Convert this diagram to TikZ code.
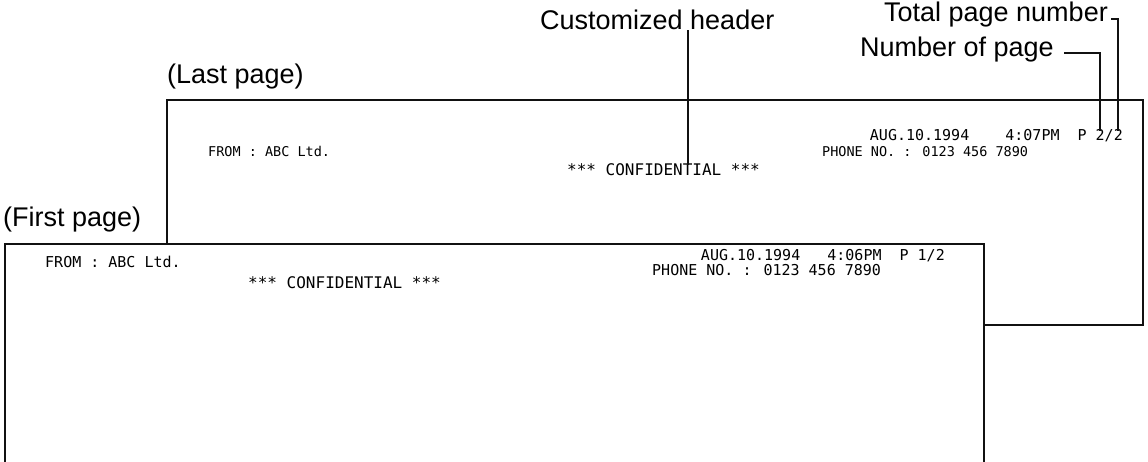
\documentclass[tikz,border=0pt]{standalone}
\usepackage{fontspec}
\setmainfont{Liberation Sans}
\newfontfamily\faxfont{DejaVu Sans Mono}
\usetikzlibrary{positioning}
\definecolor{fxInk}{HTML}{111111}
\definecolor{fxPaper}{HTML}{FFFFFF}
\tikzset{
  sheet/.style={draw=fxInk,line width=1.5pt,fill=fxPaper},
  callout/.style={inner sep=0pt,font=\fontsize{27}{30}\selectfont},
  leader/.style={draw=fxInk,line width=2pt},
  faxback/.style={inner sep=0pt,font=\faxfont\fontsize{13.5}{15}\selectfont},
  faxfront/.style={inner sep=0pt,font=\faxfont\fontsize{15}{17}\selectfont},
  faxconf/.style={inner sep=0pt,font=\faxfont\fontsize{16}{18}\selectfont}
}

\begin{document}
\begin{tikzpicture}[x=1pt,y=-1pt]
  \useasboundingbox (0,0) rectangle (1148,462);
  \clip (0,0) rectangle (1148,462);
  % ---- Last page ----
  \begin{scope}
    \draw[sheet] (167,100) rectangle (1143,325);
    \node[callout,anchor=base west] (lastlbl) at (167,84) {(Last page)};
    \node[faxback,anchor=base west] (lastfrom) at (208,157) {FROM : ABC Ltd.};
    \node[faxconf,anchor=base west] (lastconf) at (567,176) {*** CONFIDENTIAL ***};
    \node[faxfront,anchor=base east] (lastdate) at (1123,141) {AUG.10.1994~~~~4:07PM~~P 2/2};
    \node[faxback,anchor=base west] (lastphone) at (822,157) {PHONE NO. : 0123 456 7890};
  \end{scope}
  % ---- First page ----
  \begin{scope}
    \draw[sheet] (5,244) rectangle (984,480);
    \node[callout,anchor=base west] (firstlbl) at (3,227) {(First page)};
    \node[faxfront,anchor=base west] (firstfrom) at (45,268) {FROM : ABC Ltd.};
    \node[faxconf,anchor=base west] (firstconf) at (248,289) {*** CONFIDENTIAL ***};
    \node[faxfront,anchor=base east] (firstdate) at (945,261) {AUG.10.1994~~~4:06PM~~P 1/2};
    \node[faxfront,anchor=base west] (firstphone) at (652,276) {PHONE NO. : 0123 456 7890};
  \end{scope}
  % ---- Callouts ----
  \node[callout,anchor=base west] (hdr) at (540,30) {Customized header};
  \node[callout,anchor=base east] (tot) at (1108,22) {Total page number};
  \node[callout,anchor=base east] (num) at (1054,57) {Number of page};
  \coordinate (hdrtip) at (688,165);
  \coordinate (tottip) at (1118,131);
  \coordinate (numtip) at (1100,131);
  \draw[leader] (hdr.south -| hdrtip) -- (hdrtip);
  \draw[leader] ([xshift=3pt,yshift=3pt]tot.base east) -| (tottip);
  \draw[leader] ([xshift=10pt,yshift=4pt]num.base east) -| (numtip);
\end{tikzpicture}
\end{document}
